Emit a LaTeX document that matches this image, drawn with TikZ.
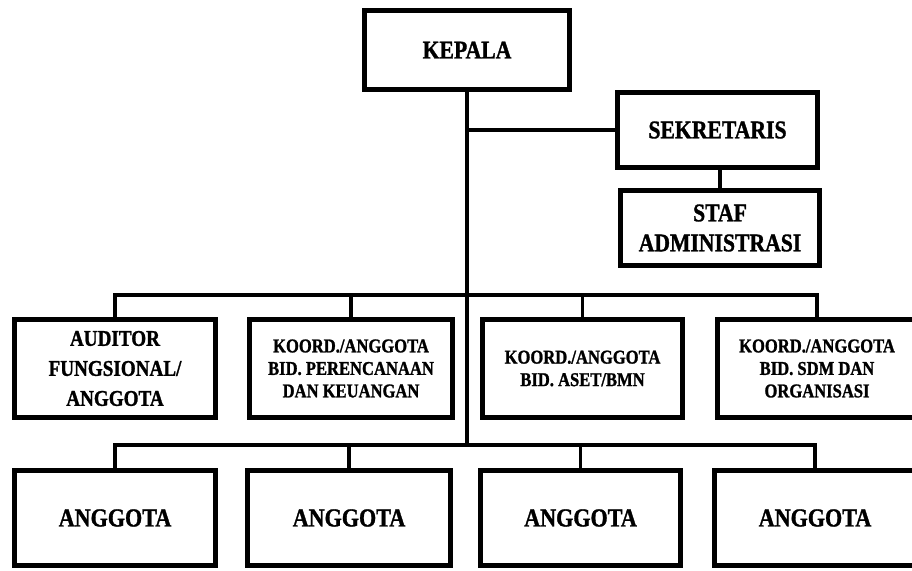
\documentclass[tikz,border=0pt]{standalone}
\usepackage{fontspec}
\newfontfamily\boxfont[FakeStretch=0.85,FakeBold=1.2]{Liberation Serif}
\begin{document}
\begin{tikzpicture}[x=1pt,y=-1pt,
  box/.style={draw=black, line width=5pt, fill=white, inner sep=0pt, align=center, anchor=center},
  bigtext/.style={font=\boxfont\bfseries\fontsize{25.5}{30}\selectfont},
  midtext/.style={font=\boxfont\bfseries\fontsize{22.5}{30}\selectfont},
  smalltext/.style={font=\boxfont\bfseries\fontsize{19.5}{22.5}\selectfont},
  anggtext/.style={font=\boxfont\bfseries\fontsize{26}{30}\selectfont},
  conn/.style={draw=black, line width=3.3pt}]
\useasboundingbox (0,0) rectangle (912,570);
\clip (0,0) rectangle (912,570);
\fill[white] (0,0) rectangle (912,570);

% nodes
\node[box, bigtext, minimum width=205pt, minimum height=79pt] (kepala) at (467,50) {KEPALA};
\node[box, bigtext, minimum width=200pt, minimum height=75pt] (sek) at (717.5,130) {SEKRETARIS};
\node[box, bigtext, minimum width=199pt, minimum height=75pt] (staf) at (720,228) {STAF\\ADMINISTRASI};

\node[box, midtext, minimum width=201pt, minimum height=98pt] (r2a) at (115,368.5) {AUDITOR\\FUNGSIONAL/\\ANGGOTA};
\node[box, smalltext, minimum width=203pt, minimum height=98pt] (r2b) at (351,368.5) {KOORD./ANGGOTA\\BID. PERENCANAAN\\DAN KEUANGAN};
\node[box, smalltext, minimum width=200pt, minimum height=98pt] (r2c) at (582.5,368.5) {KOORD./ANGGOTA\\BID. ASET/BMN};
\node[box, smalltext, minimum width=200pt, minimum height=98pt] (r2d) at (817,368.5) {KOORD./ANGGOTA\\BID. SDM DAN\\ORGANISASI};

\node[box, anggtext, minimum width=201pt, minimum height=95pt] (r3a) at (115,518) {ANGGOTA};
\node[box, anggtext, minimum width=203pt, minimum height=95pt] (r3b) at (349,518) {ANGGOTA};
\node[box, anggtext, minimum width=200pt, minimum height=95pt] (r3c) at (580.5,518) {ANGGOTA};
\node[box, anggtext, minimum width=201pt, minimum height=95pt] (r3d) at (815,518) {ANGGOTA};

\coordinate (bus2) at (468,295);
\coordinate (bus3) at (468,445);

% connectors
\draw[conn] (kepala.south) -- (kepala.south |- bus3);
\draw[conn] (kepala.south |- sek.west) -- (sek.west);
\draw[conn] (staf.north) -- (staf.north |- sek.south);

\draw[conn] (r2a.north) |- (r2d.north |- bus2) -- (r2d.north);
\draw[conn] (r2b.north) -- (r2b.north |- bus2);
\draw[conn] (r2c.north) -- (r2c.north |- bus2);

\draw[conn] (r3a.north) |- (r3d.north |- bus3) -- (r3d.north);
\draw[conn] (r3b.north) -- (r3b.north |- bus3);
\draw[conn] (r3c.north) -- (r3c.north |- bus3);
\end{tikzpicture}
\end{document}
